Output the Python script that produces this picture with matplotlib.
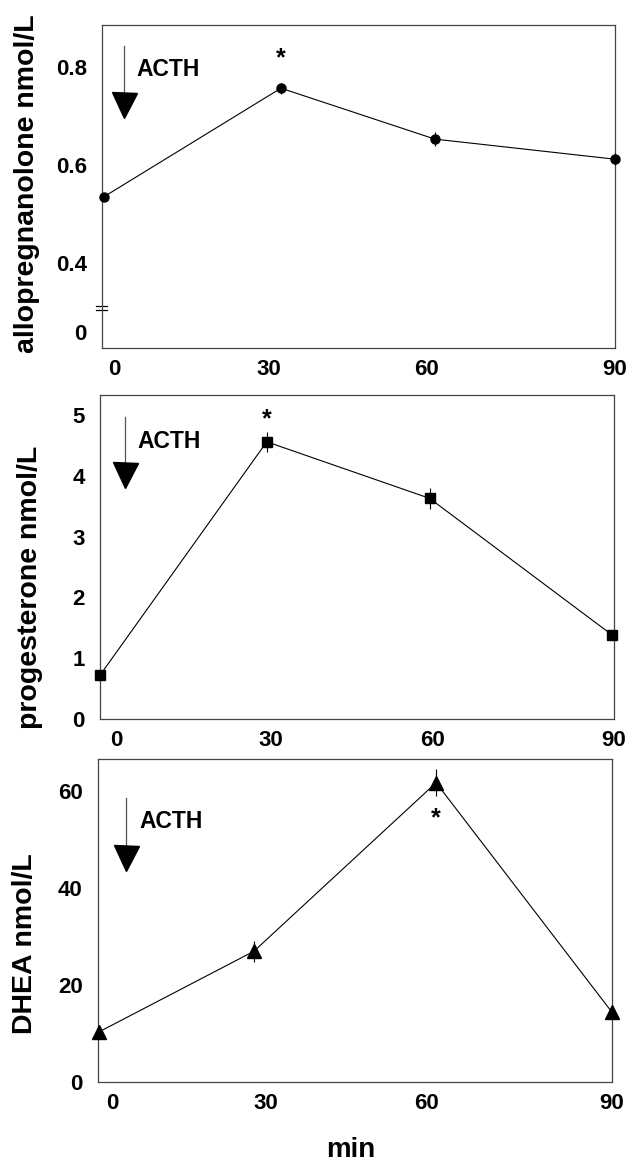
import numpy as np
import matplotlib
matplotlib.use('Agg')
from matplotlib import pyplot as plt

plt.rcParams['font.family'] = ['Liberation Sans', 'DejaVu Sans']
plt.rcParams['font.weight'] = 'bold'

# values (time in min)
time_allo = [0.3, 31.4, 58.4, 90]
allo = [0.535, 0.757, 0.653, 0.612]
allo_err = [0.004, 0.011, 0.015, 0.012]

time_prog = [0.0, 29.3, 57.9, 90]
prog = [0.72, 4.56, 3.63, 1.38]
prog_err = [0.03, 0.16, 0.17, 0.05]

time_dhea = [0.1, 27.3, 59.2, 90]
dhea = [10.3, 27.0, 61.8, 14.4]
dhea_err = [0.5, 2.2, 2.8, 0.6]

xtick_labels = ['0', '30', '60', '90']
allo_ticks = [0.259, 0.4, 0.6, 0.8]   # "0" sits below the axis break
allo_ticklabels = ['0', '0.4', '0.6', '0.8']
prog_ticks = [0, 1, 2, 3, 4, 5]
dhea_ticks = [0, 20, 40, 60]

W, H = 632, 1164
fig = plt.figure(figsize=(W / 100, H / 100), dpi=100)


def box(l, t, r, b):
    return [l / W, 1 - b / H, (r - l) / W, (b - t) / H]


ax1 = fig.add_axes(box(102, 25, 615, 348))
ax2 = fig.add_axes(box(100, 395, 614, 719))
ax3 = fig.add_axes(box(98, 759, 612, 1082))


def style(ax, xticks):
    ax.set_xlim(0, 90)
    for s in ax.spines.values():
        s.set_linewidth(0.9)
        s.set_color('#444444')
    ax.tick_params(length=0, labelsize=16, pad=11)
    ax.tick_params(axis='x', pad=8)
    ax.set_xticks(xticks)
    ax.set_xticklabels(xtick_labels, fontweight='bold')


def acth(ax, x, y_top, y_bot, y_tri, tx, ty):
    ax.plot([x, x], [y_top, y_bot], color='#555555', lw=0.9, transform=ax.transAxes)
    ax.plot([x], [y_tri], marker='v', ms=18, color='black', transform=ax.transAxes)
    ax.text(tx, ty, 'ACTH', transform=ax.transAxes, fontsize=16.5,
            fontweight='bold', ha='left', va='center')


def series(ax, t, v, e, marker, ms):
    ax.errorbar(t, v, yerr=e, color='black', lw=0.8, elinewidth=0.8, capsize=0,
                marker=marker, ms=ms, clip_on=False, zorder=3)


# allopregnanolone
series(ax1, time_allo, allo, allo_err, 'o', 6.5)
ax1.set_ylim(0.2265, 0.886)
ax1.set_yticks(allo_ticks)
ax1.set_yticklabels(allo_ticklabels, fontweight='bold')
style(ax1, [2.1, 29.2, 56.9, 90])
tr = ax1.get_yaxis_transform()
for yb in [0.312, 0.304]:
    ax1.plot([-0.012, 0.01], [yb, yb], color='black', lw=0.9, transform=tr, clip_on=False)
acth(ax1, 0.043, 0.935, 0.79, 0.752, 0.068, 0.861)
ax1.text(time_allo[1], 0.898, '*', transform=ax1.get_xaxis_transform(),
         fontsize=18, fontweight='bold', ha='center', va='center')

# progesterone
series(ax2, time_prog, prog, prog_err, 's', 7)
ax2.set_ylim(0, 5.33)
ax2.set_yticks(prog_ticks)
style(ax2, [2.9, 30.0, 58.4, 90.3])
acth(ax2, 0.048, 0.933, 0.79, 0.754, 0.072, 0.856)
ax2.text(time_prog[1], 0.925, '*', transform=ax2.get_xaxis_transform(),
         fontsize=18, fontweight='bold', ha='center', va='center')

# DHEA
series(ax3, time_dhea, dhea, dhea_err, '^', 9.5)
ax3.set_ylim(0, 66.7)
ax3.set_yticks(dhea_ticks)
style(ax3, [2.5, 29.4, 57.6, 90])
acth(ax3, 0.054, 0.879, 0.73, 0.695, 0.08, 0.806)
ax3.text(time_dhea[2], 0.815, '*', transform=ax3.get_xaxis_transform(),
         fontsize=18, fontweight='bold', ha='center', va='center')

fig.text(0.043, 1 - 184 / H, 'allopregnanolone nmol/L', rotation=90, fontsize=20.5,
         fontweight='bold', ha='center', va='center')
fig.text(0.048, 1 - 587 / H, 'progesterone nmol/L', rotation=90, fontsize=20.5,
         fontweight='bold', ha='center', va='center')
fig.text(0.04, 1 - 944 / H, 'DHEA nmol/L', rotation=90, fontsize=20.5,
         fontweight='bold', ha='center', va='center')
fig.text(351 / W, 1 - 1157 / H, 'min', fontsize=20, fontweight='bold',
         ha='center', va='baseline')

fig.savefig('out.png', dpi=100, facecolor='white')
